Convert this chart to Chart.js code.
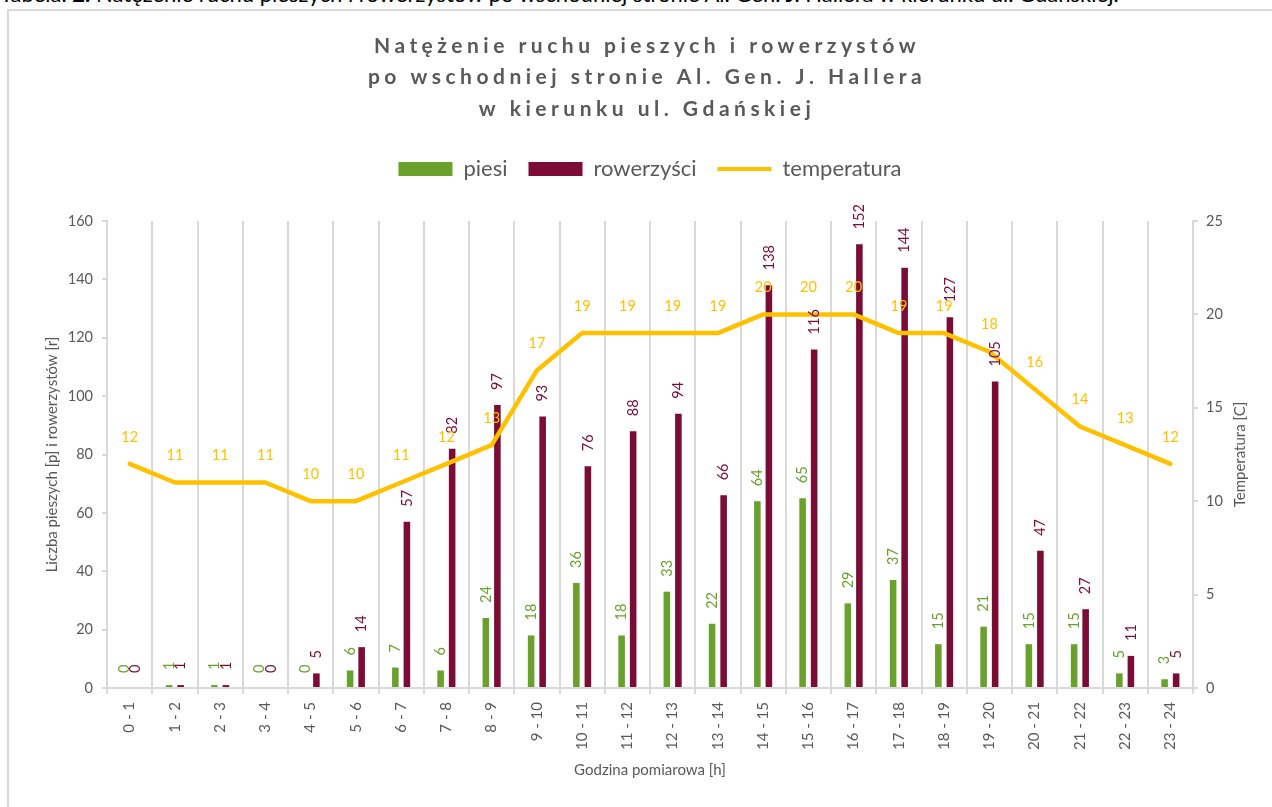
<!DOCTYPE html>
<html><head><meta charset="utf-8">
<script src="https://cdn.jsdelivr.net/npm/chart.js@4"></script>
<style>
html,body{margin:0;padding:0;background:#fff;overflow:hidden;width:1272px;height:807px}
#cap{position:absolute;left:0;top:-20px;font:22px Lato,sans-serif;color:#000;white-space:nowrap}
#frame{position:absolute;left:7px;top:9px;width:1320px;height:900px;border:2px solid #d9d9d9;box-sizing:border-box}
#c{position:absolute;left:0;top:0}
</style></head><body>
<div id="cap">Tabela. <b>2.</b> Natężenie ruchu pieszych i rowerzystów po wschodniej stronie Al. Gen. J. Hallera w kierunku ul. Gdańskiej.</div>
<div id="frame"></div>
<canvas id="c" width="1272" height="807"></canvas>
<script>
const categories = ["0 - 1","1 - 2","2 - 3","3 - 4","4 - 5","5 - 6","6 - 7","7 - 8","8 - 9","9 - 10","10 - 11","11 - 12","12 - 13","13 - 14","14 - 15","15 - 16","16 - 17","17 - 18","18 - 19","19 - 20","20 - 21","21 - 22","22 - 23","23 - 24"];
const piesi = [0,1,1,0,0,6,7,6,24,18,36,18,33,22,64,65,29,37,15,21,15,15,5,3];
const rowerzysci = [0,1,1,0,5,14,57,82,97,93,76,88,94,66,138,116,152,144,127,105,47,27,11,5];
const temperatura = [12,11,11,11,10,10,11,12,13,17,19,19,19,19,20,20,20,19,19,18,16,14,13,12];
const leftAxis = [0,160,20];
const rightAxis = [0,25,5];
const titleLines = ["Natężenie ruchu pieszych i rowerzystów","po wschodniej stronie Al. Gen. J. Hallera","w kierunku ul. Gdańskiej"];
const seriesNames = ["piesi","rowerzyści","temperatura"];

const FONT = "Lato, 'Open Sans', sans-serif";
const GRAY = '#595959';
const GRID = '#d9d9d9';
const GREEN = '#6aa12c';
const MAROON = '#7b0c36';
const YELLOW = '#ffc000';

const PAD_TOP = 137;
const PAD_LEFT = 28;
const AREA = {left:107, right:1193, top:221, bottom:688};

const titlePlugin = {
  id:'customTitle',
  afterDraw(chart){
    const ctx = chart.ctx;
    ctx.save();
    ctx.font = 'bold 21px ' + FONT;
    ctx.fillStyle = GRAY;
    ctx.textAlign = 'center';
    ctx.textBaseline = 'middle';
    ctx.letterSpacing = '4.5px';
    const ys = [46,77.5,109];
    titleLines.forEach((t,i)=>ctx.fillText(t, 647, ys[i]));
    ctx.restore();
    // right axis title (reads bottom to top)
    ctx.save();
    ctx.font = '15px ' + FONT;
    ctx.fillStyle = GRAY;
    ctx.textAlign = 'center';
    ctx.textBaseline = 'middle';
    ctx.translate(1240, (chart.chartArea.top + chart.chartArea.bottom)/2);
    ctx.rotate(-Math.PI/2);
    ctx.fillText('Temperatura [C]', 0, 0);
    ctx.restore();
  }
};

const legendFitPlugin = {
  id:'legendFit',
  beforeLayout(chart){
    const lg = chart.legend;
    if (lg && !lg._patched){
      const orig = lg.fit;
      lg.fit = function(){ orig.call(this); this.height = AREA.top - PAD_TOP; };
      lg._patched = true;
    }
  }
};

const labelPlugin = {
  id:'valueLabels',
  afterDatasetsDraw(chart){
    const ctx = chart.ctx;
    [0,1,2].forEach(i=>{
      const ds = chart.data.datasets[i];
      const meta = chart.getDatasetMeta(i);
      meta.data.forEach((el,j)=>{
        const v = ds.data[j];
        ctx.save();
        ctx.font = '14.5px ' + FONT;
        ctx.fillStyle = ds.labelColor;
        if (ds.type === 'line'){
          ctx.textAlign = 'center';
          ctx.textBaseline = 'middle';
          ctx.fillText(String(v), el.x, el.y - 27);
        } else {
          ctx.translate(el.x, el.y - 15);
          ctx.rotate(-Math.PI/2);
          ctx.textAlign = 'left';
          ctx.textBaseline = 'middle';
          ctx.fillText(String(v), 0, 0);
        }
        ctx.restore();
      });
    });
  }
};

Chart.defaults.font.family = FONT;
Chart.defaults.color = GRAY;

new Chart(document.getElementById('c'), {
  data:{
    labels: categories,
    datasets:[
      {type:'bar', label:seriesNames[0], data:piesi, backgroundColor:GREEN, labelColor:GREEN, yAxisID:'y', order:1,
       categoryPercentage:0.51, barPercentage:0.57},
      {type:'bar', label:seriesNames[1], data:rowerzysci, backgroundColor:MAROON, labelColor:MAROON, yAxisID:'y', order:1,
       categoryPercentage:0.51, barPercentage:0.57},
      {type:'line', label:seriesNames[2], data:temperatura, borderColor:YELLOW, backgroundColor:YELLOW, labelColor:YELLOW,
       borderWidth:4.5, pointRadius:0, tension:0, yAxisID:'y1', order:0, borderJoinStyle:'round', borderCapStyle:'round'}
    ]
  },
  options:{
    responsive:false,
    animation:false,
    layout:{padding:{top:PAD_TOP, left:PAD_LEFT, right:0, bottom:0}},
    plugins:{
      tooltip:{enabled:false},
      title:{display:false},
      legend:{
        display:true, position:'top',
        labels:{
          font:{size:22, family:FONT}, color:GRAY,
          usePointStyle:true, pointStyleWidth:54, boxHeight:14, boxWidth:54, padding:21,
          generateLabels(chart){
            return chart.data.datasets.map((ds,i)=>({
              text: ds.label,
              fillStyle: ds.type==='line' ? ds.borderColor : ds.backgroundColor,
              strokeStyle: ds.type==='line' ? ds.borderColor : ds.backgroundColor,
              lineWidth: ds.type==='line' ? 4 : 0,
              pointStyle: ds.type==='line' ? 'line' : 'rect',
              fontColor: GRAY,
              hidden:false,
              datasetIndex:i
            }));
          }
        }
      }
    },
    scales:{
      x:{
        type:'category',
        afterFit(s){ s.height = 807 - AREA.bottom; },
        grid:{display:true, color:GRID, lineWidth:2, drawOnChartArea:true, drawTicks:true, tickLength:6, offset:true},
        border:{display:true, color:GRID, width:2},
        ticks:{font:{size:15}, color:GRAY, minRotation:90, maxRotation:90, autoSkip:false, padding:8},
        title:{display:true, text:'Godzina pomiarowa [h]', font:{size:15}, color:GRAY, padding:{top:0,bottom:28}}
      },
      y:{
        type:'linear', position:'left', min:leftAxis[0], max:leftAxis[1],
        afterFit(s){ s.width = AREA.left - PAD_LEFT; },
        grid:{display:true, drawOnChartArea:false, drawTicks:true, tickLength:5, color:GRID, lineWidth:2},
        border:{display:true, color:GRID, width:2},
        ticks:{stepSize:leftAxis[2], font:{size:14.5}, color:GRAY, padding:9},
        title:{display:true, text:'Liczba pieszych [p] i rowerzystów [r]', font:{size:15}, color:GRAY, padding:{top:15,bottom:0}}
      },
      y1:{
        type:'linear', position:'right', min:rightAxis[0], max:rightAxis[1],
        afterFit(s){ s.width = 1272 - AREA.right; },
        grid:{display:true, drawOnChartArea:false, drawTicks:true, tickLength:5, color:GRID, lineWidth:2},
        border:{display:true, color:GRID, width:2},
        ticks:{stepSize:rightAxis[2], font:{size:14.5}, color:GRAY, padding:8},
        title:{display:false}
      }
    }
  },
  plugins:[legendFitPlugin, labelPlugin, titlePlugin]
});
</script>
</body></html>
